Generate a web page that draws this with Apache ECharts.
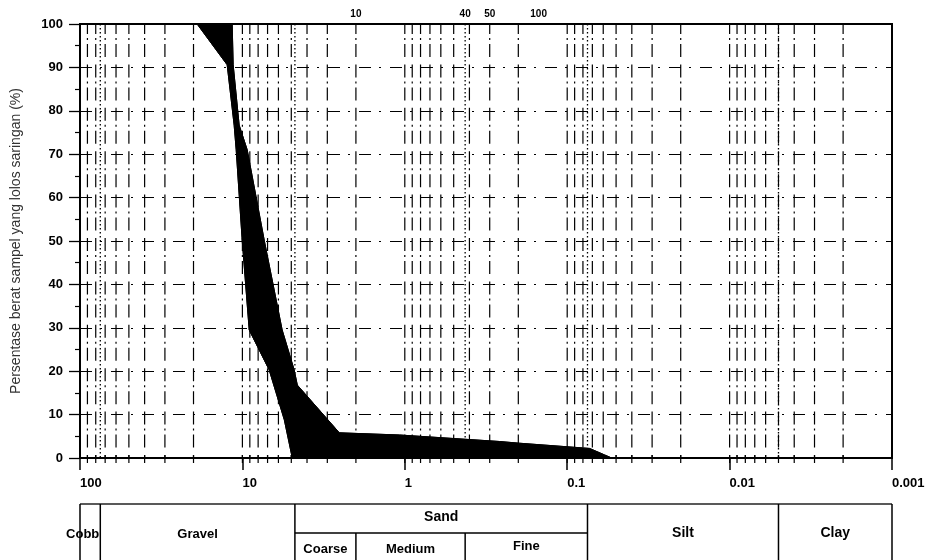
<!DOCTYPE html>
<html>
<head>
<meta charset="utf-8">
<script src="https://cdn.jsdelivr.net/npm/echarts@6/dist/echarts.min.js"></script>
<style>
  html, body { margin: 0; padding: 0; background: #fff; }
  #chart { width: 931px; height: 560px; }
</style>
</head>
<body>
<div id="chart"></div>
<script>
// ---------- data ----------
const xTickValues = [100, 10, 1, 0.1, 0.01, 0.001];
const xTickLabels = ['100', '10', '1', '0.1', '0.01', '0.001'];

// sieve numbers shown along the top (size in mm, sieve no.)
const sieveSizes = [2.0, 0.425, 0.3, 0.15];
const sieveLabels = ['10', '40', '50', '100'];

// vertical log grid lines (mm)
const gridSizes = [
  90, 80, 70, 60, 50, 40, 30, 20, 10,
  9, 8, 7, 6, 5, 4, 3, 2, 1,
  0.9, 0.8, 0.7, 0.6, 0.5, 0.4, 0.3, 0.2, 0.1,
  0.09, 0.08, 0.07, 0.06, 0.05, 0.04, 0.03, 0.02, 0.01,
  0.009, 0.008, 0.007, 0.006, 0.005, 0.004, 0.003, 0.002
];
// dotted classification boundary lines (mm)
const boundarySizes = [75, 4.75, 0.425, 0.075, 0.005];

// envelope of the grading curves [size mm, % passing]
const coarseEdge = [
  [19.0, 100], [12.41, 90.6], [11.24, 76.7], [10.92, 71], [10.03, 50.2],
  [9.08, 29.5], [6.84, 20.3], [5.52, 8.8], [4.93, 0]
];
const fineEdge = [
  [11.56, 100], [11.40, 90.6], [10.47, 76.7], [9.34, 71], [7.34, 50.2],
  [5.69, 29.5], [4.80, 20.3], [4.59, 16.8], [2.53, 5.8], [1.08, 5.3],
  [0.261, 3.8], [0.196, 3.4], [0.0728, 2.2], [0.0588, 0.7], [0.0532, 0]
];

// classification table
const mainClassNames = ['Cobb', 'Gravel', 'Sand', 'Silt', 'Clay'];
const mainClassBounds = [100, 75, 4.75, 0.075, 0.005, 0.001];
const sandSubNames = ['Coarse', 'Medium', 'Fine'];
const sandSubBounds = [4.75, 2.0, 0.425, 0.075];

// ---------- chart ----------
const FONT = '"Liberation Sans", Arial, sans-serif';
const chart = echarts.init(document.getElementById('chart'), null, { renderer: 'canvas' });

function labelFor(v) {
  for (let i = 0; i < xTickValues.length; i++) {
    if (Math.abs(Math.log10(v) - Math.log10(xTickValues[i])) < 1e-6) return xTickLabels[i];
  }
  return '';
}

const bandPolygon = coarseEdge.slice().reverse().concat(fineEdge);

const TABLE_TOP = 504, TABLE_MID = 533, TABLE_BOTTOM = 562;

chart.setOption({
  animation: false,
  backgroundColor: '#fff',
  grid: {
    left: 80, right: 39, top: 24, bottom: 102,
    show: true, borderColor: '#000', borderWidth: 2, backgroundColor: 'transparent'
  },
  xAxis: {
    type: 'log', logBase: 10, min: 0.001, max: 100, inverse: true,
    axisLine: { show: true, lineStyle: { color: '#000', width: 2 } },
    axisTick: { show: true, length: 12, lineStyle: { color: '#000', width: 1.5 } },
    axisLabel: {
      show: true, formatter: labelFor, align: 'left', margin: 19,
      color: '#000', fontFamily: FONT, fontWeight: 'bold', fontSize: 13,
      showMinLabel: true, showMaxLabel: true
    },
    splitLine: { show: false },
    minorTick: { show: false }
  },
  yAxis: {
    type: 'value', min: 0, max: 100, interval: 10,
    name: 'Persentase berat sampel yang lolos saringan (%)',
    nameLocation: 'middle', nameRotate: 90, nameGap: 57,
    nameTextStyle: { fontFamily: FONT, fontSize: 14, color: '#333' },
    axisLine: { show: true, lineStyle: { color: '#000', width: 1.5 } },
    axisTick: { show: true, length: 11, lineStyle: { color: '#000', width: 1.3 } },
    minorTick: { show: true, splitNumber: 2, length: 5, lineStyle: { color: '#000', width: 1.2 } },
    axisLabel: { margin: 17, color: '#000', fontFamily: FONT, fontWeight: 'bold', fontSize: 13 },
    splitLine: { show: true, lineStyle: { color: '#000', width: 1.2, type: [12, 8, 2, 9] } }
  },
  series: [
    {
      name: 'verticalGrid',
      type: 'custom',
      silent: true,
      z: 1,
      data: gridSizes,
      renderItem: function (params, api) {
        const v = api.value(0);
        const top = api.coord([v, 100]);
        const bot = api.coord([v, 0]);
        return {
          type: 'group',
          children: [
            {
              type: 'line',
              shape: { x1: top[0], y1: top[1], x2: bot[0], y2: bot[1] },
              style: { stroke: '#000', lineWidth: 1.2, lineDash: [13, 4, 2, 4, 13, 7.4], lineDashOffset: 3 }
            },
            {
              type: 'line',
              shape: { x1: bot[0], y1: bot[1] - 3, x2: bot[0], y2: bot[1] + 5 },
              style: { stroke: '#000', lineWidth: 1.2 }
            }
          ]
        };
      }
    },
    {
      name: 'boundaryLines',
      type: 'custom',
      silent: true,
      z: 2,
      data: boundarySizes,
      renderItem: function (params, api) {
        const v = api.value(0);
        const top = api.coord([v, 100]);
        const bot = api.coord([v, 0]);
        return {
          type: 'line',
          shape: { x1: top[0], y1: top[1], x2: bot[0], y2: bot[1] },
          style: { stroke: '#000', lineWidth: 1.3, lineDash: [1.5, 2.5] }
        };
      }
    },
    {
      name: 'sieveNumbers',
      type: 'custom',
      silent: true,
      z: 3,
      data: sieveSizes.map((s, i) => [s, sieveLabels[i]]),
      renderItem: function (params, api) {
        const p = api.coord([api.value(0), 100]);
        return {
          type: 'text',
          style: {
            x: p[0], y: p[1] - 10, text: sieveLabels[params.dataIndex],
            textAlign: 'center', textVerticalAlign: 'middle',
            font: 'bold 10px ' + FONT, fill: '#000'
          }
        };
      }
    },
    {
      name: 'gradingBand',
      type: 'custom',
      silent: true,
      z: 5,
      data: [0],
      renderItem: function (params, api) {
        return {
          type: 'polygon',
          shape: { points: bandPolygon.map(p => api.coord(p)) },
          style: { fill: '#000', stroke: '#000', lineWidth: 1 }
        };
      }
    },
    {
      name: 'coarseEdge', type: 'line', data: coarseEdge, z: 6, symbol: 'none',
      lineStyle: { color: '#000', width: 1 }, silent: true
    },
    {
      name: 'fineEdge', type: 'line', data: fineEdge, z: 6, symbol: 'none',
      lineStyle: { color: '#000', width: 1 }, silent: true
    },
    {
      name: 'classTable',
      type: 'custom',
      silent: true,
      z: 3,
      data: [0],
      renderItem: function (params, api) {
        const X = s => api.coord([s, 50])[0];
        const children = [];
        const lw = 1.5;
        const left = X(mainClassBounds[0]);
        const right = X(mainClassBounds[mainClassBounds.length - 1]);
        children.push({ type: 'line', shape: { x1: left, y1: TABLE_TOP, x2: right, y2: TABLE_TOP },
          style: { stroke: '#222', lineWidth: lw } });
        mainClassBounds.forEach(b => {
          const x = X(b);
          children.push({ type: 'line', shape: { x1: x, y1: TABLE_TOP, x2: x, y2: TABLE_BOTTOM },
            style: { stroke: '#000', lineWidth: lw } });
        });
        // sand sub row
        const sx1 = X(sandSubBounds[0]), sx2 = X(sandSubBounds[sandSubBounds.length - 1]);
        children.push({ type: 'line', shape: { x1: sx1, y1: TABLE_MID, x2: sx2, y2: TABLE_MID },
          style: { stroke: '#000', lineWidth: lw } });
        for (let i = 1; i < sandSubBounds.length - 1; i++) {
          const x = X(sandSubBounds[i]);
          children.push({ type: 'line', shape: { x1: x, y1: TABLE_MID, x2: x, y2: TABLE_BOTTOM },
            style: { stroke: '#000', lineWidth: lw } });
        }
        // main class texts
        mainClassNames.forEach((name, i) => {
          const xa = X(mainClassBounds[i]), xb = X(mainClassBounds[i + 1]);
          let x = (xa + xb) / 2, align = 'center', y = 534, size = 13;
          if (name === 'Cobb') { x = xb - 1; align = 'right'; }
          if (name === 'Sand') { y = 517; size = 14; }
          if (name === 'Silt' || name === 'Clay') { y = 533; size = 14; }
          children.push({ type: 'text', style: {
            x: x, y: y, text: name, textAlign: align, textVerticalAlign: 'middle',
            font: 'bold ' + size + 'px ' + FONT, fill: '#000' } });
        });
        sandSubNames.forEach((name, i) => {
          const xa = X(sandSubBounds[i]), xb = X(sandSubBounds[i + 1]);
          children.push({ type: 'text', style: {
            x: (xa + xb) / 2, y: name === 'Fine' ? 546 : 549, text: name,
            textAlign: 'center', textVerticalAlign: 'middle',
            font: 'bold 13px ' + FONT, fill: '#000' } });
        });
        return { type: 'group', children: children };
      }
    }
  ]
});
</script>
</body>
</html>
